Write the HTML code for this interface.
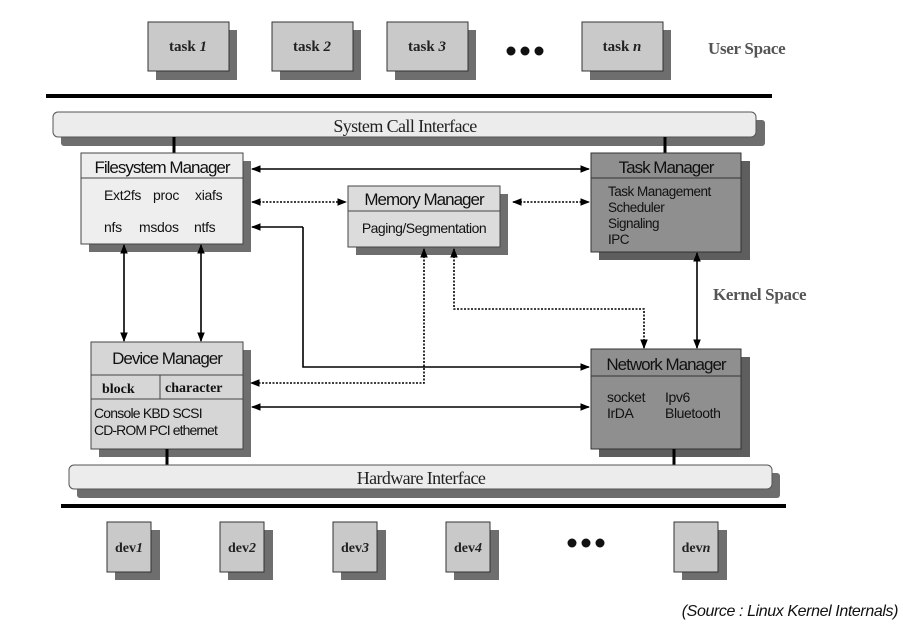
<!DOCTYPE html>
<html><head><meta charset="utf-8"><style>
html,body{margin:0;padding:0;background:#fff;}
svg{display:block;}
.ser{font-family:"Liberation Serif",serif;}
.san{font-family:"Liberation Sans",sans-serif;}
</style></head><body>
<svg width="903" height="634" viewBox="0 0 903 634" xmlns="http://www.w3.org/2000/svg">
<defs>
<marker id="a" viewBox="0 0 10 10" refX="9" refY="5" markerWidth="6" markerHeight="6" orient="auto-start-reverse"><path d="M0,1 L10,5 L0,9 z" fill="#000"/></marker>
</defs>
<!-- tasks -->
<g class="ser" font-weight="bold" font-size="15" text-anchor="middle" fill="#222">
<rect x="156" y="30" width="81" height="50" fill="#6e6e6e"/><rect x="148" y="22" width="81" height="49" fill="#c9c9c9" stroke="#333"/><text x="188" y="51">task <tspan font-style="italic">1</tspan></text>
<rect x="280" y="30" width="81" height="50" fill="#6e6e6e"/><rect x="272" y="22" width="81" height="49" fill="#c9c9c9" stroke="#333"/><text x="312" y="51">task <tspan font-style="italic">2</tspan></text>
<rect x="395" y="30" width="81" height="50" fill="#6e6e6e"/><rect x="387" y="22" width="81" height="49" fill="#c9c9c9" stroke="#333"/><text x="427" y="51">task <tspan font-style="italic">3</tspan></text>
<rect x="590" y="30" width="81" height="50" fill="#6e6e6e"/><rect x="582" y="22" width="81" height="49" fill="#c9c9c9" stroke="#333"/><text x="622" y="51">task <tspan font-style="italic">n</tspan></text>
</g>
<circle cx="511" cy="51" r="4.5" fill="#111"/><circle cx="525" cy="51" r="4.5" fill="#111"/><circle cx="539" cy="51" r="4.5" fill="#111"/>
<text x="708" y="54" class="ser" font-weight="bold" font-size="17" fill="#555" letter-spacing="-0.3">User Space</text>
<rect x="46" y="94" width="726" height="4" fill="#000"/>
<!-- system call bar -->
<rect x="61" y="120" width="704" height="26" rx="3" fill="#6e6e6e"/>
<rect x="53" y="112" width="703" height="25" rx="5" fill="#ececec" stroke="#555"/>
<text x="405" y="132" class="ser" font-size="18" text-anchor="middle" fill="#222" letter-spacing="-0.6">System Call Interface</text>
<line x1="174" y1="137" x2="174" y2="153" stroke="#000" stroke-width="3"/>
<line x1="665" y1="137" x2="665" y2="153" stroke="#000" stroke-width="3"/>
<!-- FM -->
<rect x="89" y="161" width="162" height="91" fill="#6e6e6e"/>
<rect x="81" y="153" width="162" height="91" fill="#eeeeee" stroke="#444"/>
<line x1="81" y1="178" x2="243" y2="178" stroke="#444"/>
<g class="san" fill="#111">
<text x="162" y="173" font-size="17" text-anchor="middle" letter-spacing="-1">Filesystem Manager</text>
<g font-size="14" letter-spacing="-0.3">
<text x="104" y="200">Ext2fs</text><text x="153" y="200">proc</text><text x="195" y="200">xiafs</text>
<text x="104" y="232">nfs</text><text x="139" y="232">msdos</text><text x="194" y="232">ntfs</text>
</g></g>
<!-- MM -->
<rect x="356" y="194" width="152" height="61" fill="#6e6e6e"/>
<rect x="348" y="186" width="152" height="61" fill="#dcdcdc" stroke="#444"/>
<line x1="348" y1="211" x2="500" y2="211" stroke="#444"/>
<g class="san" fill="#111">
<text x="424" y="205" font-size="17" text-anchor="middle" letter-spacing="-1">Memory Manager</text>
<text x="424" y="233" font-size="14" text-anchor="middle" letter-spacing="-0.5">Paging/Segmentation</text>
</g>
<!-- TM -->
<rect x="599" y="161" width="151" height="99" fill="#5e5e5e"/>
<rect x="591" y="153" width="150" height="99" fill="#8f8f8f" stroke="#333"/>
<line x1="591" y1="178" x2="741" y2="178" stroke="#333"/>
<g class="san" fill="#111">
<text x="666" y="173" font-size="17" text-anchor="middle" letter-spacing="-1">Task Manager</text>
<g font-size="13.5" letter-spacing="-0.5">
<text x="608" y="196">Task Management</text><text x="608" y="212">Scheduler</text><text x="608" y="228">Signaling</text><text x="608" y="244">IPC</text>
</g></g>
<!-- DM -->
<rect x="99" y="350" width="152" height="107" fill="#6e6e6e"/>
<rect x="91" y="342" width="152" height="107" fill="#d6d6d6" stroke="#444"/>
<line x1="91" y1="375" x2="243" y2="375" stroke="#444"/>
<line x1="91" y1="399" x2="243" y2="399" stroke="#444"/>
<line x1="160" y1="375" x2="160" y2="399" stroke="#444"/>
<g fill="#111">
<text x="167" y="364" class="san" font-size="17" text-anchor="middle" letter-spacing="-1">Device Manager</text>
<text x="102" y="393" class="ser" font-size="14" font-weight="bold">block</text>
<text x="165" y="392" class="ser" font-size="14" font-weight="bold">character</text>
<text x="94" y="418" class="san" font-size="14" letter-spacing="-0.8">Console KBD SCSI</text>
<text x="94" y="435" class="san" font-size="14" letter-spacing="-0.9">CD-ROM PCI ethernet</text>
</g>
<!-- NM -->
<rect x="599" y="357" width="151" height="100" fill="#5e5e5e"/>
<rect x="591" y="349" width="150" height="100" fill="#8f8f8f" stroke="#333"/>
<line x1="591" y1="376" x2="741" y2="376" stroke="#333"/>
<g class="san" fill="#111">
<text x="666" y="370" font-size="17" text-anchor="middle" letter-spacing="-1">Network Manager</text>
<g font-size="14" letter-spacing="-0.4">
<text x="607" y="402">socket</text><text x="665" y="402">Ipv6</text>
<text x="607" y="418">IrDA</text><text x="665" y="418">Bluetooth</text>
</g></g>
<text x="713" y="300" class="ser" font-weight="bold" font-size="17" fill="#555" letter-spacing="-0.3">Kernel Space</text>
<!-- connectors -->
<g stroke="#000" stroke-width="1.6" fill="none">
<line x1="252" y1="169" x2="589" y2="169" marker-start="url(#a)" marker-end="url(#a)"/>
<path d="M303,227 H252" marker-end="url(#a)"/>
<path d="M303,227 V367 H589" marker-end="url(#a)"/>
<line x1="124" y1="245" x2="124" y2="341" marker-start="url(#a)" marker-end="url(#a)"/>
<line x1="201" y1="245" x2="201" y2="341" marker-start="url(#a)" marker-end="url(#a)"/>
<line x1="697" y1="253" x2="697" y2="348" marker-start="url(#a)" marker-end="url(#a)"/>
<line x1="252" y1="407" x2="589" y2="407" marker-start="url(#a)" marker-end="url(#a)"/>
</g>
<g stroke="#000" stroke-width="1.6" fill="none" stroke-dasharray="2,1.5">
<line x1="252" y1="202" x2="346" y2="202" marker-start="url(#a)" marker-end="url(#a)"/>
<line x1="513" y1="202" x2="589" y2="202" marker-start="url(#a)" marker-end="url(#a)"/>
<path d="M424,249 V383 H251" marker-start="url(#a)" marker-end="url(#a)"/>
<path d="M454,249 V309 H644 V348" marker-start="url(#a)" marker-end="url(#a)"/>
</g>
<line x1="167" y1="449" x2="167" y2="465" stroke="#000" stroke-width="3"/>
<line x1="674" y1="449" x2="674" y2="465" stroke="#000" stroke-width="3"/>
<!-- HW bar -->
<rect x="77" y="473" width="703" height="25" rx="3" fill="#6e6e6e"/>
<rect x="69" y="465" width="703" height="24" rx="5" fill="#ececec" stroke="#555"/>
<text x="421" y="484" class="ser" font-size="18" text-anchor="middle" fill="#222" letter-spacing="-0.6">Hardware Interface</text>
<rect x="61" y="504" width="725" height="4" fill="#000"/>
<!-- devs -->
<g class="ser" font-weight="bold" font-size="14" text-anchor="middle" fill="#222">
<rect x="115" y="530" width="45" height="50" fill="#6e6e6e"/><rect x="107" y="522" width="44" height="50" fill="#c9c9c9" stroke="#333"/><text x="129" y="552">dev<tspan font-style="italic">1</tspan></text>
<rect x="228" y="530" width="45" height="50" fill="#6e6e6e"/><rect x="220" y="522" width="44" height="50" fill="#c9c9c9" stroke="#333"/><text x="242" y="552">dev<tspan font-style="italic">2</tspan></text>
<rect x="341" y="530" width="45" height="50" fill="#6e6e6e"/><rect x="333" y="522" width="44" height="50" fill="#c9c9c9" stroke="#333"/><text x="355" y="552">dev<tspan font-style="italic">3</tspan></text>
<rect x="454" y="530" width="45" height="50" fill="#6e6e6e"/><rect x="446" y="522" width="44" height="50" fill="#c9c9c9" stroke="#333"/><text x="468" y="552">dev<tspan font-style="italic">4</tspan></text>
<rect x="682" y="530" width="45" height="50" fill="#6e6e6e"/><rect x="674" y="522" width="44" height="50" fill="#c9c9c9" stroke="#333"/><text x="696" y="552">dev<tspan font-style="italic">n</tspan></text>
</g>
<circle cx="572" cy="543" r="4.5" fill="#111"/><circle cx="586" cy="543" r="4.5" fill="#111"/><circle cx="600" cy="543" r="4.5" fill="#111"/>
<text x="898" y="616" class="san" font-style="italic" font-size="16" text-anchor="end" fill="#111" letter-spacing="-0.4">(Source : Linux Kernel Internals)</text>
</svg>
</body></html>
